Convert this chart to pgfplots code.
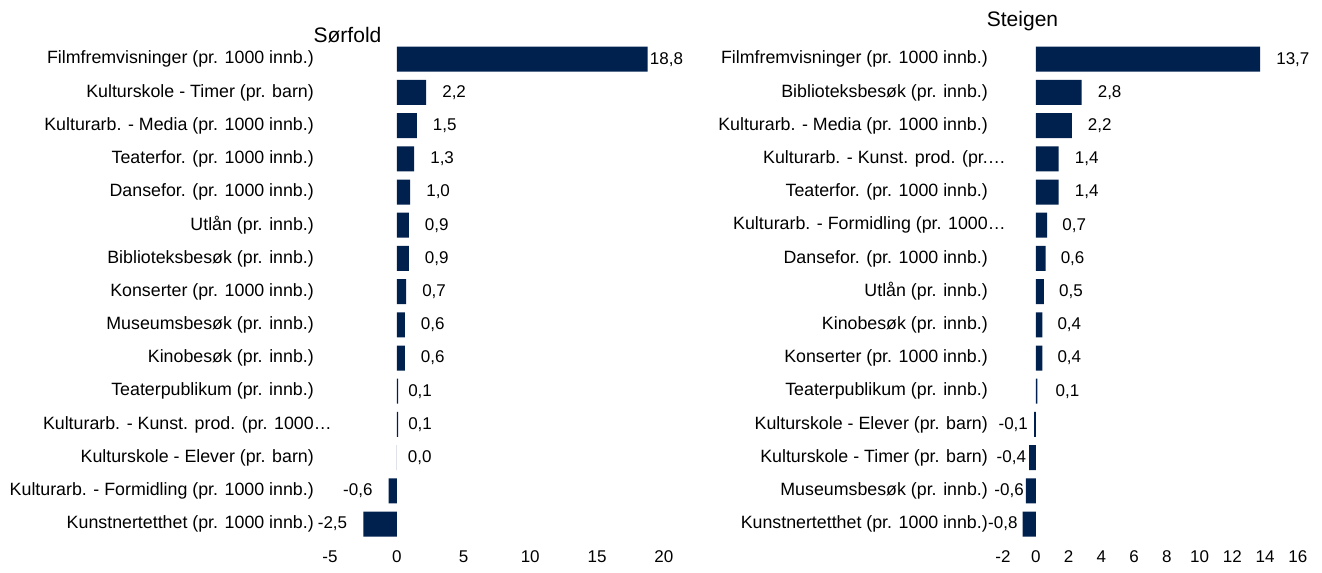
\documentclass[border=0pt]{standalone}
\usepackage{fontspec}
\setmainfont{Liberation Sans}
\usepackage{pgfplots}
\pgfplotsset{compat=1.18}
\usepackage{pgfplotstable}
\definecolor{barc}{RGB}{0,32,78}
\newcommand{\catfont}{\fontsize{17.8bp}{21bp}\selectfont}
\newcommand{\valfont}{\fontsize{17bp}{20bp}\selectfont}

\pgfplotstableread{
y x dx lab
0 18.8 2 18,8
1 2.2 16 2,2
2 1.5 16 1,5
3 1.3 16 1,3
4 1.0 16 1,0
5 0.9 16 0,9
6 0.9 16 0,9
7 0.7 16 0,7
8 0.6 16 0,6
9 0.6 16 0,6
10 0.1 10 0,1
11 0.1 10 0,1
12 0.0 11 0,0
}\leftpos
\pgfplotstableread{
y x dx lab
13 -0.6 16 -0,6
14 -2.5 16 -2,5
}\leftneg
\pgfplotstableread{
y x dx lab
0 13.7 16 13,7
1 2.8 16 2,8
2 2.2 16 2,2
3 1.4 16 1,4
4 1.4 16 1,4
5 0.7 15 0,7
6 0.6 15 0,6
7 0.5 15 0,5
8 0.4 15 0,4
9 0.4 15 0,4
10 0.1 18 0,1
}\rightpos
\pgfplotstableread{
y x dx lab
11 -0.1 6 -0,1
12 -0.4 3 -0,4
13 -0.6 2 -0,6
14 -0.8 5 -0,8
}\rightneg

\pgfplotsset{
  panel/.style={
    scale only axis, xbar, bar width=25bp,
    ymin=-0.5, ymax=14.5, y dir=reverse, height=498bp,
    ytick={0,...,14},
    axis line style={draw=none}, major tick length=0pt,
    yticklabel style={anchor=east, inner sep=0pt, font=\catfont},
    xticklabel style={anchor=north, inner sep=0pt, yshift=-10bp, font=\valfont},
    clip=false, anchor=south west,
  },
  posbar/.style={fill=barc, draw=none, bar shift=0pt,
    point meta=explicit symbolic, nodes near coords,
    visualization depends on={\thisrow{dx} \as \dx},
    every node near coord/.append style={anchor=west, inner sep=0pt, xshift=\dx bp, font=\valfont, text=black}},
  negbar/.style={fill=barc, draw=none, bar shift=0pt,
    point meta=explicit symbolic, nodes near coords,
    visualization depends on={\thisrow{dx} \as \dx},
    every node near coord/.append style={anchor=east, inner sep=0pt, xshift=-\dx bp, font=\valfont, text=black}},
}

\begin{document}
\begin{tikzpicture}
\path[use as bounding box] (0,0) rectangle (1322bp,573bp);

\begin{axis}[panel, at={(330bp,32.4bp)}, width=333.75bp,
  xmin=-5, xmax=20, xtick={-5,0,5,10,15,20}, xticklabels={-5,0,5,10,15,20},
  yticklabel style={xshift=-16bp},
  yticklabels={Filmfremvisninger (pr. 1000 innb.), Kulturskole - Timer (pr. barn), Kulturarb. - Media (pr. 1000 innb.), Teaterfor. (pr. 1000 innb.), Dansefor. (pr. 1000 innb.), Utlån (pr. innb.), Biblioteksbesøk (pr. innb.), Konserter (pr. 1000 innb.), Museumsbesøk (pr. innb.), Kinobesøk (pr. innb.), Teaterpublikum (pr. innb.), Kulturarb. - Kunst. prod. (pr. 1000\rlap{…}, Kulturskole - Elever (pr. barn), Kulturarb. - Formidling (pr. 1000 innb.), Kunstnertetthet (pr. 1000 innb.)}]
\addplot[posbar] table[x=x, y=y, meta=lab] {\leftpos};
\addplot[negbar] table[x=x, y=y, meta=lab] {\leftneg};
\end{axis}

\begin{axis}[panel, at={(1003bp,32.4bp)}, width=294.75bp,
  xmin=-2, xmax=16, xtick={-2,0,...,16}, xticklabels={-2,0,2,4,6,8,10,12,14,16},
  yticklabel style={xshift=-15bp},
  yticklabels={Filmfremvisninger (pr. 1000 innb.), Biblioteksbesøk (pr. innb.), Kulturarb. - Media (pr. 1000 innb.), Kulturarb. - Kunst. prod. (pr.\rlap{…}, Teaterfor. (pr. 1000 innb.), Kulturarb. - Formidling (pr. 1000\rlap{…}, Dansefor. (pr. 1000 innb.), Utlån (pr. innb.), Kinobesøk (pr. innb.), Konserter (pr. 1000 innb.), Teaterpublikum (pr. innb.), Kulturskole - Elever (pr. barn), Kulturskole - Timer (pr. barn), Museumsbesøk (pr. innb.), Kunstnertetthet (pr. 1000 innb.)}]
\addplot[posbar] table[x=x, y=y, meta=lab] {\rightpos};
\addplot[negbar] table[x=x, y=y, meta=lab] {\rightneg};
\end{axis}

\node[anchor=base, font=\fontsize{21bp}{25bp}\selectfont] at (347.5bp,530bp) {Sørfold};
\node[anchor=base, font=\fontsize{21bp}{25bp}\selectfont] at (1022.5bp,546bp) {Steigen};
\end{tikzpicture}
\end{document}
